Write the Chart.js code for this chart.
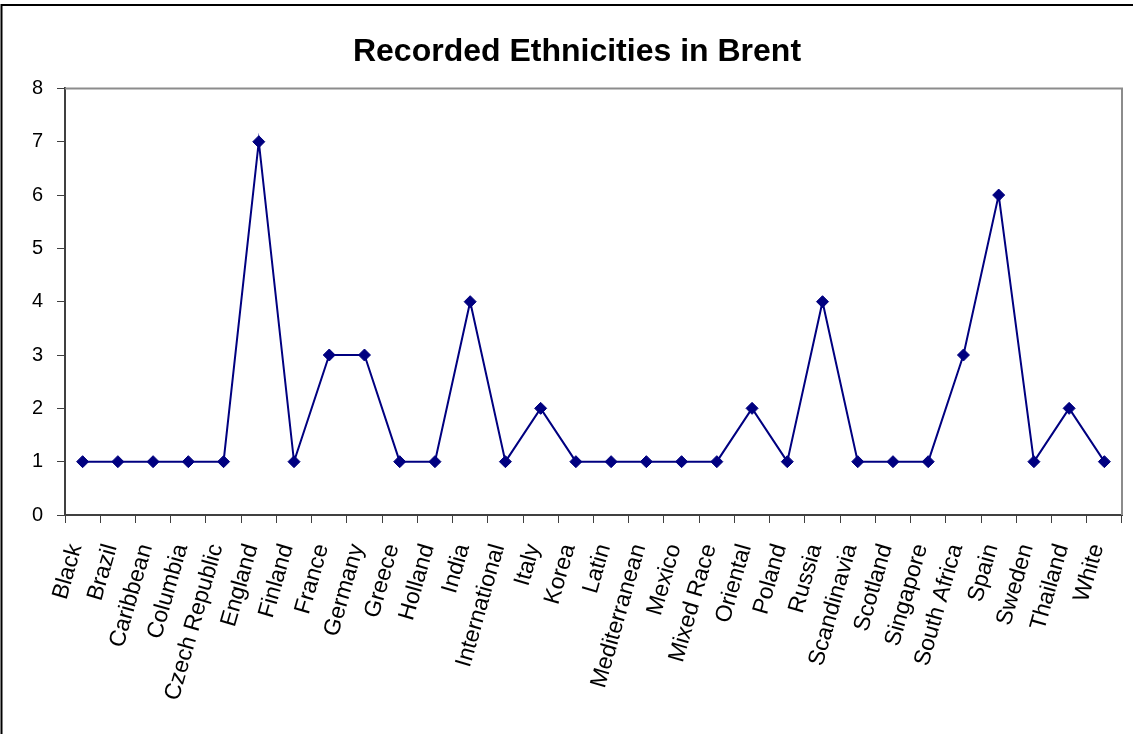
<!DOCTYPE html>
<html>
<head>
<meta charset="utf-8">
<script src="https://cdn.jsdelivr.net/npm/chart.js@4/dist/chart.umd.min.js"></script>
<style>
  html, body { margin: 0; padding: 0; background: #fff; }
  #wrap { width: 1133px; height: 734px; position: relative; }
</style>
</head>
<body>
<div id="wrap"><canvas id="lineChart"></canvas></div>
<script>
// データ
const categories = ["Black", "Brazil", "Caribbean", "Columbia", "Czech Republic", "England", "Finland",
  "France", "Germany", "Greece", "Holland", "India", "International", "Italy", "Korea", "Latin",
  "Mediterranean", "Mexico", "Mixed Race", "Oriental", "Poland", "Russia", "Scandinavia", "Scotland",
  "Singapore", "South Africa", "Spain", "Sweden", "Thailand", "White"];
const counts = [1, 1, 1, 1, 1, 7, 1, 3, 3, 1, 1, 4, 1, 2, 1, 1, 1, 1, 1, 2, 1, 4, 1, 1, 1, 3, 6, 1, 2, 1];
const yTicks = [0, 1, 2, 3, 4, 5, 6, 7, 8];
const chartTitle = 'Recorded Ethnicities in Brent';

// 枠線とプロットエリアの線
const framePlugin = {
  id: 'frame',
  beforeDraw(chart) {
    const c = chart.ctx;
    c.save();
    c.fillStyle = '#fff';
    c.fillRect(0, 0, chart.width, chart.height);
    c.strokeStyle = '#000';
    c.lineWidth = 2;
    c.beginPath();
    c.moveTo(1.5, chart.height);
    c.lineTo(1.5, 5);
    c.lineTo(chart.width, 5);
    c.stroke();
    c.restore();
  },
  beforeDatasetsDraw(chart) {
    const a = chart.chartArea;
    const c = chart.ctx;
    c.save();
    c.strokeStyle = '#8c8c8c';
    c.lineWidth = 2;
    c.beginPath();
    c.moveTo(a.left, a.top);
    c.lineTo(a.right, a.top);
    c.lineTo(a.right, a.bottom);
    c.stroke();
    c.restore();
  }
};

const lineconfig = {
  type: 'line',
  data: {
    labels: categories,
    datasets: [{
      data: counts,
      borderColor: '#000080',
      backgroundColor: '#000080',
      borderWidth: 2,
      pointStyle: 'rectRot',
      pointRadius: 6,
      pointBorderWidth: 1,
      tension: 0,
    }]
  },
  options: {
    responsive: true,
    maintainAspectRatio: false,
    animation: false,
    // 左の余白はタイトルを右に寄せるため（y軸の幅と合わせて65px）
    layout: { padding: { top: 0, right: 11, bottom: 0, left: 32 } },
    plugins: {
      legend: { display: false },
      tooltip: { enabled: false },
      title: {
        display: true,
        text: chartTitle,
        color: '#000',
        font: { family: 'Liberation Sans, Arial, sans-serif', size: 32, weight: 'bold' },
        padding: { top: 33, bottom: 17 }
      }
    },
    scales: {
      x: {
        offset: true,
        grid: { offset: true, drawOnChartArea: false, color: '#404040', tickLength: 8, lineWidth: 1 },
        border: { color: '#404040', width: 2 },
        ticks: {
          color: '#000',
          autoSkip: false,
          maxRotation: 74,
          minRotation: 74,
          padding: 18,
          labelOffset: -7,
          font: { family: 'Liberation Sans, Arial, sans-serif', size: 23 }
        },
        afterFit(s) {
          s.height = 219;
          s.paddingLeft = 0;
          s.paddingRight = 0;
        }
      },
      y: {
        min: 0,
        max: 8,
        afterBuildTicks(s) { s.ticks = yTicks.map(v => ({ value: v })); },
        grid: { drawOnChartArea: false, color: '#404040', tickLength: 8 },
        border: { color: '#404040', width: 2 },
        ticks: {
          color: '#000',
          padding: 14,
          font: { family: 'Liberation Sans, Arial, sans-serif', size: 20 }
        },
        afterFit(s) { s.width = 33; }
      }
    }
  },
  plugins: [framePlugin]
};

const lineChart = new Chart(document.getElementById('lineChart'), lineconfig);
</script>
</body>
</html>
